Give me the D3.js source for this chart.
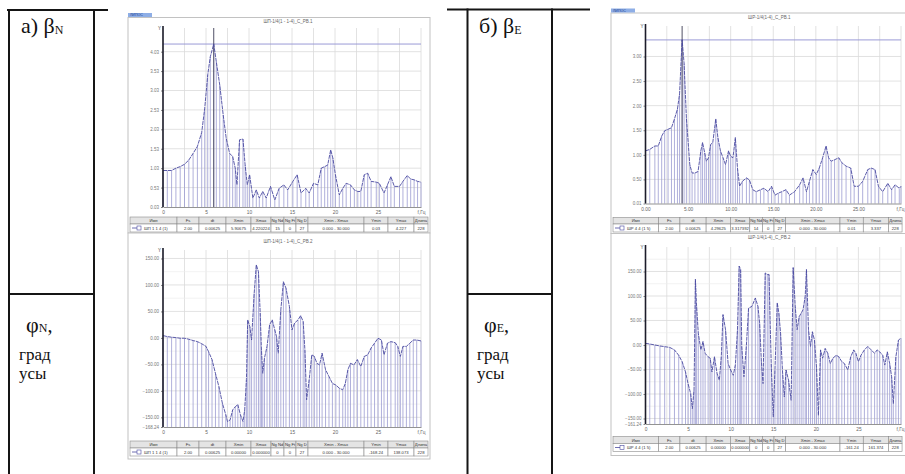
<!DOCTYPE html>
<html>
<head>
<meta charset="utf-8">
<script src="https://cdn.jsdelivr.net/npm/d3@7"></script>
<style>
  body { margin: 0; background: #fff; }
  svg { display: block; }
</style>
</head>
<body>
<svg id="chart" width="905" height="474"></svg>
<script>
// ---- data ----
// а) βN — amplitude
const betaN_f = [0,0.5,1,1.5,2,2.5,3,3.5,4,4.5,4.85,5.2,5.5,5.9,6.2,6.6,7.0,7.35,7.75,8.1,
  8.4,8.6,8.9,9.3,9.55,9.8,10.07,10.45,10.85,11.2,11.6,12,12.5,13,13.5,14.05,14.5,15.1,15.6,16.05,
  16.6,17,17.5,18,18.4,18.8,19.15,19.5,19.75,20.05,20.5,20.9,21.3,21.8,22.25,22.65,23,23.4,23.8,24.2,
  24.8,25.15,25.7,26.1,26.5,26.9,27.5,27.9,28.4,28.8,29.2,29.6,30];
const betaN_v = [0.97,0.97,0.97,1.03,1.07,1.13,1.24,1.41,1.59,1.95,2.57,3.43,3.9,4.23,3.77,3.17,2.4,1.8,1.41,1.33,
  1.03,0.6,1.76,1.78,1.11,0.6,0.86,0.26,0.47,0.26,0.43,0.26,0.56,0.21,0.51,0.6,0.47,0.69,0.86,0.39,
  0.51,0.39,0.64,0.6,1.03,1.07,1.11,1.5,1.29,0.86,0.34,0.51,0.64,0.6,0.47,0.43,0.43,0.86,0.9,0.69,
  0.67,0.64,0.39,0.6,0.81,0.56,0.56,0.69,0.84,0.75,0.73,0.69,0.67];

// φN — phase, degrees
const phiN_f = [0,0.5,1,1.5,2,2.5,3,3.5,4,4.5,5,5.3,5.7,6.1,6.5,6.9,7.3,7.5,7.8,8.1,
  8.4,8.7,9,9.3,9.5,9.7,9.85,10.1,10.3,10.6,10.85,11.1,11.3,11.45,11.6,11.8,12.1,12.4,12.7,13,
  13.2,13.4,13.7,14,14.3,14.7,15,15.3,15.7,16,16.3,16.5,16.7,17,17.3,17.6,17.9,18.2,18.5,18.9,
  19.3,19.7,20.1,20.5,20.9,21.2,21.5,21.8,22.2,22.6,23,23.4,23.8,24.2,24.6,25,25.4,25.7,26.1,26.5,
  27,27.3,27.6,27.9,28.3,28.7,29.1,29.5,30];
const phiN_v = [4.4,2.5,1.3,0.6,-0.6,-0.6,-2.5,-5,-7,-11,-16,-26,-41,-67,-92,-123,-145,-158,-155,-136,
  -130,-126,-145,-158,-136,-79,34,21,-4,84,138,125,47,-23,-67,-38,-16,25,34,15,
  2.5,-29,53,106,94,59,15,28,34,42,31,-23,-117,-79,-32,-35,-48,-51,-29,-60,
  -73,-86,-89,-95,-98,-86,-60,-48,-51,-41,-54,-35,-32,-19,-10,-0.6,-4,-32,-10,-7,
  -9,-16,-35,-16,-16,-10,-4,-4,-5.7];

// б) βE — amplitude
const betaE_f = [0,0.5,1.1,1.5,1.9,2.25,2.65,3.05,3.4,3.75,4.0,4.3,4.53,4.8,5.2,5.47,5.8,6.17,6.5,6.7,
  6.95,7.15,7.4,7.65,7.9,8.25,8.5,8.8,9.1,9.4,9.75,10.0,10.27,10.55,10.8,11.05,11.37,11.85,12.2,12.6,
  13.0,13.5,13.9,14.4,14.8,15.2,15.6,16,16.5,16.9,17.5,18.1,18.5,18.9,19.25,19.65,20.05,20.4,20.8,21.2,
  21.5,21.8,22.2,22.7,23.05,23.55,24.1,24.5,25,25.5,26.1,26.5,26.95,27.35,27.85,28.45,28.9,29.3,29.8,30];
const betaE_v = [1.08,1.11,1.18,1.18,1.38,1.49,1.52,1.55,1.73,1.93,2.24,3.34,2.86,1.76,0.8,0.63,0.63,0.66,1.08,1.25,
  1.04,0.87,0.94,1.21,1.25,1.73,1.35,1.08,0.94,0.8,1.08,0.97,0.94,1.35,0.73,0.36,0.46,0.53,0.49,0.29,
  0.25,0.29,0.32,0.25,0.36,0.18,0.22,0.25,0.29,0.18,0.25,0.39,0.53,0.25,0.46,0.7,0.6,0.73,0.94,1.18,
  0.94,0.87,0.9,0.94,0.84,0.77,0.73,0.36,0.36,0.46,0.7,0.73,0.7,0.36,0.25,0.42,0.29,0.39,0.32,0.36];

// φE — phase, degrees
const phiE_f = [0,0.5,1.1,1.7,2.25,2.85,3.4,3.9,4.3,4.7,5.0,5.3,5.5,5.7,5.86,6.0,6.2,6.5,6.75,7.0,
  7.35,7.6,7.8,8.1,8.4,8.67,8.9,9.1,9.4,9.7,10.0,10.3,10.55,10.8,11.0,11.17,11.3,11.56,11.84,12.1,
  12.5,12.9,13.2,13.4,13.6,13.8,14.06,14.3,14.5,14.76,15.0,15.2,15.47,15.66,15.86,16.1,16.3,16.5,16.8,17.1,
  17.34,17.58,17.8,18.05,18.28,18.5,18.75,18.9,19.14,19.37,19.6,19.84,20.08,20.3,20.55,20.8,21.1,21.4,21.7,22.0,
  22.4,22.7,23.05,23.36,23.75,24.1,24.45,24.7,25,25.3,25.7,26.1,26.5,26.9,27.2,27.5,27.85,28.1,28.4,28.67,
  28.9,29.1,29.4,29.7,30];
const phiE_v = [3.4,2,0,-2,-3.4,-5,-10,-21,-34,-55,-79,-99,-130,-92,134,79,24,-10,7,-17,
  -24,-27,-55,-24,-58,-72,-24,62,31,-38,-51,-62,-41,31,161,154,-3,-65,-3,75,
  79,96,79,45,-31,-79,147,144,144,-38,-147,-51,86,65,24,-58,-106,-51,-72,-113,
  158,79,31,58,65,72,99,154,31,-3,27,10,-45,-144,-10,-27,-7,-17,-38,-27,
  -21,-24,-34,-38,-51,-24,-10,-17,-34,-21,-10,-3,-10,-17,-10,-14,-21,-41,-14,-38,
  -65,-120,-24,10,14];

// axis ticks / labels
const freqTicks = [0, 5, 10, 15, 20, 25, 30];
const freqLabelsInt = ["0", "5", "10", "15", "20", "25", "f,Гц"];
const freqLabelsDec = ["0.00", "5.00", "10.00", "15.00", "20.00", "25.00", "f,Гц"];
const gridFreq = [0, 2.5, 5, 7.5, 10, 12.5, 15, 17.5, 20, 22.5, 25, 27.5, 30];

const betaN_ticks = [0.03, 0.53, 1.03, 1.53, 2.03, 2.53, 3.03, 3.53, 4.03];
const phiN_ticks = [-168.24, -150, -100, -50, 0, 50, 100, 150];
const betaE_ticks = [0.01, 0.5, 1.0, 1.5, 2.0, 2.5, 3.0];
const phiE_ticks = [-161.24, -150, -100, -50, 0, 50, 100, 150];

// table under every plot
const tableHead = ["Имя", "Fs", "dt", "Xmin", "Xmax", "Ng Nd", "Ng Ft", "Ng D", "Xmin - Xmax", "Ymin", "Ymax", "Длина"];
const rowBetaN = ["ШП 1 1 4 (1)", "2.00", "0.00625", "5.90675", "4.220224", "15", "0", "27", "0.000 - 30.000", "0.03", "4.227", "228"];
const rowPhiN  = ["ШП 1 1 4 (1)", "2.00", "0.00625", "0.00000", "0.000000", "0", "0", "27", "0.000 - 30.000", "-168.24", "138.073", "228"];
const rowBetaE = ["ШР 4 4 (1 5)", "2.00", "0.00625", "4.29625", "3.317392", "14", "0", "27", "0.000 - 30.000", "0.01", "3.337", "228"];
const rowPhiE  = ["ШР 4 4 (1 5)", "2.00", "0.00625", "0.00000", "0.000000", "0", "0", "27", "0.000 - 30.000", "-161.24", "161.374", "228"];

const svg = d3.select("#chart");
const FONT = "'Liberation Sans', Arial, sans-serif";
const SERIF = "'Liberation Serif', 'Times New Roman', serif";
const colW = [47, 22, 27, 25, 20, 13, 12, 12, 56, 24, 26, 14];

// ---- the word table at the left of each pair ----
function drawSideTable(o) {
  const g = svg.append("g").attr("stroke", "#151515").attr("stroke-width", 2);
  g.append("line").attr("x1", o.topX0).attr("x2", o.topX1).attr("y1", o.top).attr("y2", o.top);
  g.append("line").attr("x1", o.left).attr("x2", o.left).attr("y1", o.top - 1).attr("y2", 474);
  g.append("line").attr("x1", o.inner).attr("x2", o.inner).attr("y1", o.top - 1).attr("y2", 474);
  g.append("line").attr("x1", o.left).attr("x2", o.inner).attr("y1", 294).attr("y2", 294);

  const t = svg.append("g").attr("font-family", SERIF).attr("fill", "#111");
  const head = t.append("text").attr("x", o.tx).attr("y", 33).attr("font-size", 22);
  head.append("tspan").text(o.letter + " β");
  head.append("tspan").attr("font-size", 12).attr("dy", 1).text(o.sub);

  const phi = t.append("text").attr("x", o.tx + 5).attr("y", 332).attr("font-size", 22);
  phi.append("tspan").text("φ");
  phi.append("tspan").attr("font-size", 12).attr("dy", 0).text(o.sub);
  phi.append("tspan").attr("font-size", 20).text(",");

  t.append("text").attr("x", o.tx - 2).attr("y", 360).attr("font-size", 17).text("град");
  t.append("text").attr("x", o.tx - 2).attr("y", 379).attr("font-size", 17).text("усы");
}

drawSideTable({ topX0: 7, topX1: 108, top: 10, left: 9, inner: 94, tx: 21, letter: "а)", sub: "N" });
drawSideTable({ topX0: 447, topX1: 590, top: 9.5, left: 467.5, inner: 552, tx: 479, letter: "б)", sub: "E" });

// ---- one spectrum screenshot ----
function drawPanel(p) {
  const g = svg.append("g");
  const [fx, fy, fw, fh] = p.frame;
  const { x0, x1, y0, y1 } = p.plot;

  g.append("rect").attr("x", fx).attr("y", fy).attr("width", fw).attr("height", fh)
    .attr("fill", "#fff").attr("stroke", "#c2c2c2").attr("stroke-width", 1);

  if (p.tag) {
    g.append("rect").attr("x", fx).attr("y", fy - 4.5).attr("width", 24).attr("height", 4)
      .attr("fill", "#8eaee6");
    g.append("text").attr("x", fx + 2).attr("y", fy - 1.3).attr("font-size", 3.6)
      .attr("font-family", FONT).attr("fill", "#1b3c8f").text("ЛИПОС");
  }

  g.append("text").attr("x", (x0 + x1) / 2 - 4).attr("y", p.titleY)
    .attr("text-anchor", "middle").attr("font-size", 4.5).attr("font-family", FONT)
    .attr("fill", "#666").text(p.title);

  const x = d3.scaleLinear().domain([0, 30]).range([x0, x1]);
  const y = d3.scaleLinear().domain(p.yDomain).range([y1, y0]);

  // grid
  const grid = g.append("g").attr("stroke", "#dadada").attr("stroke-width", 0.8);
  grid.selectAll("line.v").data(gridFreq).join("line")
    .attr("x1", d => x(d)).attr("x2", d => x(d)).attr("y1", y0).attr("y2", y1);
  const hTicks = p.yTicks.slice(1);
  grid.selectAll("line.h").data(hTicks).join("line")
    .attr("x1", x0).attr("x2", x1).attr("y1", d => y(d)).attr("y2", d => y(d));
  if (p.minorY) {
    g.append("g").attr("stroke", "#ececec").attr("stroke-width", 0.7)
      .selectAll("line").data(p.minorY).join("line")
      .attr("x1", x0).attr("x2", x1).attr("y1", d => y(d)).attr("y2", d => y(d));
  }

  const pts = p.freq.map((f, i) => ({ f, v: p.vals[i] }));

  // stems
  g.append("g").attr("stroke", "#9c9cd2").attr("stroke-width", 0.8)
    .selectAll("line").data(pts).join("line")
    .attr("x1", d => x(d.f)).attr("x2", d => x(d.f))
    .attr("y1", d => y(d.v)).attr("y2", y1);

  // cursor lines
  if (p.cursor) {
    g.append("line").attr("x1", x0).attr("x2", x1)
      .attr("y1", y(p.cursor.v)).attr("y2", y(p.cursor.v))
      .attr("stroke", "#9a9ad6").attr("stroke-width", 1);
    g.append("line").attr("x1", x(p.cursor.f)).attr("x2", x(p.cursor.f))
      .attr("y1", y0).attr("y2", y1)
      .attr("stroke", "#505066").attr("stroke-width", 1);
  }

  // curve
  g.append("path").datum(pts)
    .attr("fill", "none").attr("stroke", "#4a4aa0").attr("stroke-width", 0.9)
    .attr("stroke-dasharray", "4,0.8")
    .attr("d", d3.line().x(d => x(d.f)).y(d => y(d.v)));

  // axes
  const ax = g.append("g").attr("transform", `translate(0,${y1})`)
    .call(d3.axisBottom(x).tickValues(freqTicks).tickFormat((d, i) => p.xLabels[i]).tickSize(0).tickPadding(4));
  ax.select(".domain").attr("stroke", "#777").attr("stroke-width", 0.8);
  ax.selectAll("text").attr("font-size", 4.8).attr("font-family", FONT).attr("fill", "#666");
  if (p.edge) {
    // the right screenshots run into the page edge: keep the unit label inside
    ax.selectAll(".tick").filter(d => d === 30).select("text")
      .attr("text-anchor", "end").attr("x", 3);
  }

  const ay = g.append("g").attr("transform", `translate(${x0},0)`)
    .call(d3.axisLeft(y).tickValues(p.yTicks).tickFormat(d3.format(".2f")).tickSize(2).tickPadding(2));
  ay.select(".domain").remove();
  ay.selectAll("line").attr("stroke", "#888");
  ay.selectAll("text").attr("font-size", 4.5).attr("font-family", FONT).attr("fill", "#777");

  g.append("line").attr("x1", x0).attr("x2", x0).attr("y1", y0 - 2).attr("y2", y1)
    .attr("stroke", "#1c1c2a").attr("stroke-width", 1.6);
  g.append("text").attr("x", x0 - 5).attr("y", y0 + 2).attr("font-size", 4.5)
    .attr("font-family", FONT).attr("fill", "#444").text("Y");

  // table
  const k = p.edge ? 0.97 : 1;
  const tb = g.append("g").attr("font-family", FONT).attr("font-size", 4.2).attr("fill", "#333");
  let cx = fx + 2;
  colW.forEach((cw, i) => {
    const w = cw * k;
    tb.append("rect").attr("x", cx).attr("y", p.tableY).attr("width", w).attr("height", p.rowH[0])
      .attr("fill", "#e4e4e4").attr("stroke", "#8a8a8a").attr("stroke-width", 0.6);
    tb.append("rect").attr("x", cx).attr("y", p.tableY + p.rowH[0]).attr("width", w).attr("height", p.rowH[1])
      .attr("fill", "#fff").attr("stroke", "#8a8a8a").attr("stroke-width", 0.6);
    tb.append("text").attr("x", cx + w / 2).attr("y", p.tableY + p.rowH[0] - 1.8)
      .attr("text-anchor", "middle").text(tableHead[i]);
    tb.append("text").attr("x", i === 0 ? cx + 14 : cx + w / 2).attr("y", p.tableY + p.rowH[0] + p.rowH[1] - 2.2)
      .attr("text-anchor", i === 0 ? "start" : "middle").text(p.row[i]);
    cx += w;
  });
  const ly = p.tableY + p.rowH[0] + p.rowH[1] / 2;
  tb.append("line").attr("x1", fx + 4).attr("x2", fx + 10).attr("y1", ly).attr("y2", ly)
    .attr("stroke", "#4a4aa0").attr("stroke-width", 0.8);
  tb.append("rect").attr("x", fx + 9).attr("y", ly - 2).attr("width", 4).attr("height", 4)
    .attr("fill", "#fff").attr("stroke", "#4a4aa0").attr("stroke-width", 0.6);
}

drawPanel({
  frame: [128, 17.5, 302, 215.5], tag: true, titleY: 22.5, title: "ШП-1/4(1 - 1-4)_С_РВ.1",
  plot: { x0: 163, x1: 421, y0: 28, y1: 207 },
  yDomain: [0.03, 4.64], yTicks: betaN_ticks, xLabels: freqLabelsInt,
  freq: betaN_f, vals: betaN_v, cursor: { f: 5.9, v: 4.227 },
  tableY: 217, rowH: [7, 8], row: rowBetaN
});
drawPanel({
  frame: [128, 233, 302, 226], tag: false, titleY: 242.5, title: "ШП-1/4(1 - 1-4)_С_РВ.2",
  plot: { x0: 163, x1: 421, y0: 250, y1: 427 },
  yDomain: [-168.24, 166], yTicks: phiN_ticks, xLabels: freqLabelsInt,
  minorY: [-125, -75, -25, 25, 75, 125],
  freq: phiN_f, vals: phiN_v, cursor: null,
  tableY: 441, rowH: [7, 8], row: rowPhiN
});
drawPanel({
  frame: [611, 13, 300, 220.5], tag: true, edge: true, titleY: 19, title: "ШР-1/4(1-4)_С_РВ.1",
  plot: { x0: 645.5, x1: 901, y0: 26, y1: 203.5 },
  yDomain: [0.01, 3.62], yTicks: betaE_ticks, xLabels: freqLabelsDec,
  freq: betaE_f, vals: betaE_v, cursor: { f: 4.3, v: 3.337 },
  tableY: 217.5, rowH: [6.5, 8], row: rowBetaE
});
drawPanel({
  frame: [611, 233.5, 300, 222], tag: false, edge: true, titleY: 238.5, title: "ШР-1/4(1-4)_С_РВ.2",
  plot: { x0: 645.5, x1: 901, y0: 247, y1: 424 },
  yDomain: [-161.24, 200], yTicks: phiE_ticks, xLabels: freqLabelsInt,
  minorY: [-125, -75, -25, 25, 75, 125, 175],
  freq: phiE_f, vals: phiE_v, cursor: null,
  tableY: 436.5, rowH: [7, 8], row: rowPhiE
});
</script>
</body>
</html>
